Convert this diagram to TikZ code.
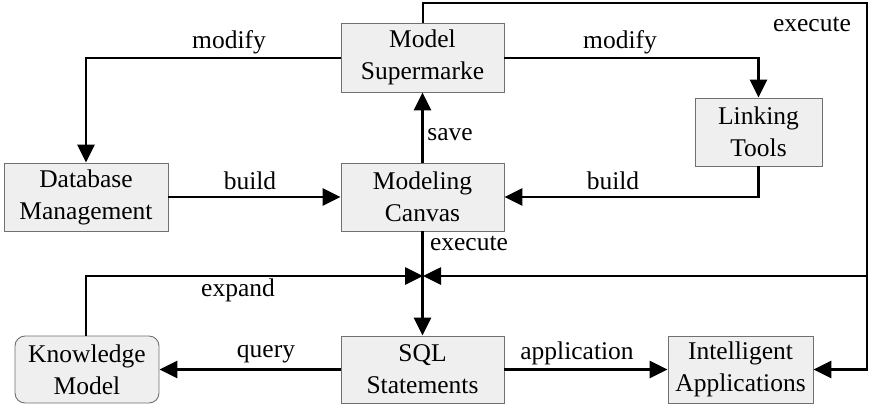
\documentclass[tikz,border=0pt]{standalone}
\usepackage{fontspec}
\setmainfont{Liberation Serif}
\usetikzlibrary{arrows.meta}
\definecolor{boxfill}{HTML}{EFEFEF}
\definecolor{boxline}{HTML}{707070}
\begin{document}
\begin{tikzpicture}[x=1pt,y=-1pt,
  blk/.style={draw=boxline,fill=boxfill,line width=0.9pt,align=center,
    inner sep=0pt,font=\fontsize{25.5}{32}\selectfont},
  flow/.style={line width=2.7pt,-{Triangle[length=18pt,width=17pt]}},
  wire/.style={line width=2.7pt},
  lbl/.style={font=\fontsize{25.5}{30}\selectfont,inner sep=0pt}]
\useasboundingbox (0,0) rectangle (869,408);

% boxes
\node[blk,minimum width=163pt,minimum height=69pt] (sup) at (422.5,57.5) {Model\\Supermarke};
\node[blk,minimum width=164pt,minimum height=68pt] (db) at (86,197) {Database\\Management};
\node[blk,minimum width=163pt,minimum height=68pt] (can) at (422.5,197) {Modeling\\Canvas};
\node[blk,minimum width=127pt,minimum height=68pt] (lnk) at (758.5,132) {Linking\\Tools};
\node[blk,minimum width=144pt,minimum height=67pt,rounded corners=10pt] (kno) at (87,369.5) {Knowledge\\Model};
\node[blk,minimum width=163pt,minimum height=67pt] (sql) at (422.5,369.5) {SQL\\Statements};
\node[blk,minimum width=145pt,minimum height=67pt] (app) at (740.5,369.5) {Intelligent\\Applications};

% routing points
\coordinate (jn) at (423,276);
\coordinate (topl) at (423,3);
\coordinate (topr) at (867,3);
\coordinate (midr) at (867,276);

% connectors
\draw[flow] (sup.west |- 0,58) -| (db.north -| 86,0);
\draw[flow] (sup.east |- 0,58) -| (lnk.north);
\draw[flow] (lnk.south) |- (can.east);
\draw[flow] (db.east) -- (can.west);
\draw[flow] (can.north) -- (sup.south);
\draw[flow] (can.south) -- (sql.north);
\draw[flow] (kno.north -| 86,0) |- (jn);
\draw[wire] (sup.north -| topl) -- (topl) -- (topr) -- (midr);
\draw[flow] (midr) -- (jn);
\draw[flow] (midr) |- (app.east);
\draw[flow] (sql.west) -- (kno.east);
\draw[flow] (sql.east) -- (app.west);

% labels
\node[lbl] (l1) at (229,42) {modify};
\node[lbl] (l2) at (620,42) {modify};
\node[lbl] (l3) at (812,24) {execute};
\node[lbl] (l4) at (450,135) {save};
\node[lbl] (l5) at (250,181) {build};
\node[lbl] (l6) at (613,181) {build};
\node[lbl] (l7) at (469,243) {execute};
\node[lbl] (l8) at (238,290) {expand};
\node[lbl] (l9) at (266,354) {query};
\node[lbl] (l10) at (577,353) {application};
\end{tikzpicture}
\end{document}
